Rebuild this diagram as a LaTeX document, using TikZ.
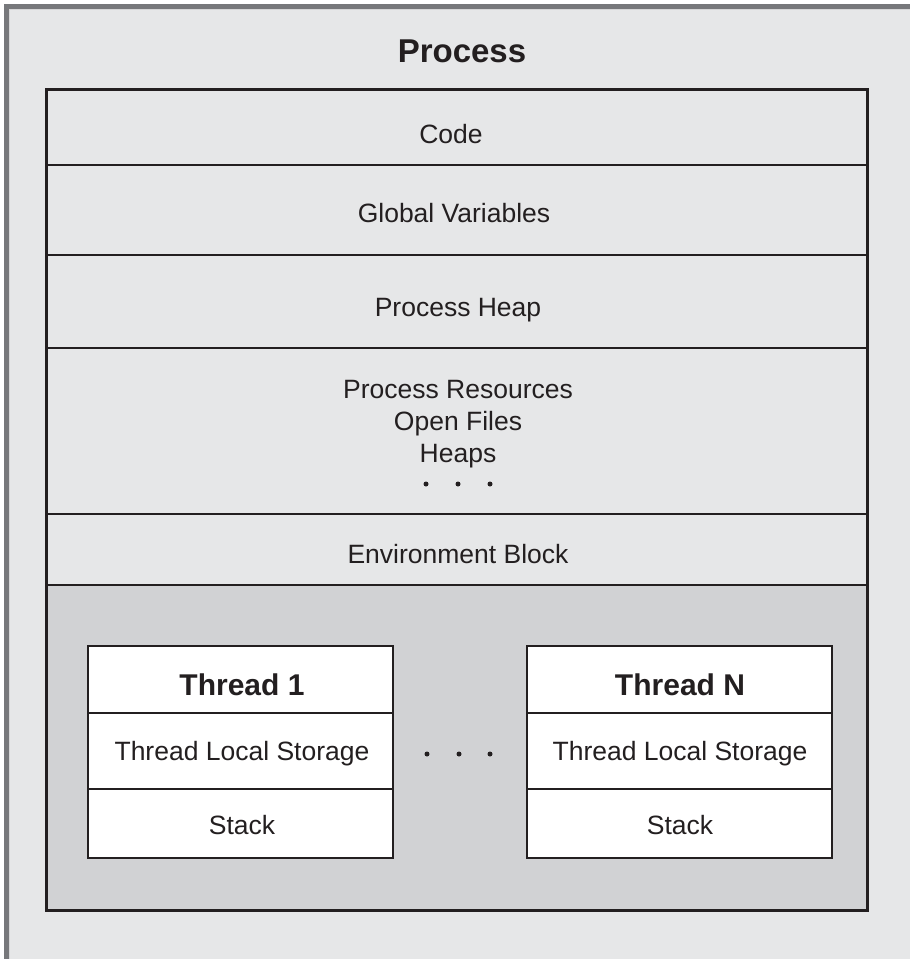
\documentclass[tikz,border=0pt]{standalone}
\usepackage{fontspec}
\setmainfont{Liberation Sans}
\definecolor{bgc}{HTML}{E6E7E8}
\definecolor{frame}{HTML}{77787B}
\definecolor{ink}{HTML}{231F20}
\definecolor{tgray}{HTML}{D1D2D4}
\begin{document}
\begin{tikzpicture}[x=1pt,y=-1pt,
  layer/.style={draw=ink, line width=1.5pt, rectangle, minimum width=820pt, inner sep=0pt},
  tbox/.style={draw=ink, line width=1.5pt, fill=white, rectangle, minimum width=305pt, inner sep=0pt},
  txt/.style={font=\fontsize{26.5}{32}\selectfont, text=ink, align=center, inner sep=0pt},
  bold/.style={font=\fontsize{30}{36}\selectfont\bfseries, text=ink, inner sep=0pt},
  dot/.style={circle, fill=ink, minimum size=5pt, inner sep=0pt}]
\useasboundingbox (0,0) rectangle (910,959);
\fill[white] (0,0) rectangle (910,959);
\fill[bgc] (4,4) rectangle (910,959);
\draw[frame, line width=5pt] (6.5,959) -- (6.5,6.5) -- (910,6.5);
\draw[white!70!frame, line width=1pt] (9.5,959) -- (9.5,9.5) -- (910,9.5);

\node[font=\fontsize{33}{40}\selectfont\bfseries, text=ink, inner sep=0pt] (title) at (462,51) {Process};

% layers
\node[layer, minimum height=75pt] (code) at (457,127.5) {};
\node[layer, minimum height=90pt] (glob) at (457,210) {};
\node[layer, minimum height=93pt] (heap) at (457,301.5) {};
\node[layer, minimum height=166pt] (res) at (457,431) {};
\node[layer, minimum height=71pt] (env) at (457,549.5) {};
\node[layer, fill=tgray, minimum height=325pt] (thr) at (457,747.5) {};
\draw[ink, line width=2.5pt] (code.north west) rectangle (thr.south east);

\node[txt] (tcode) at (451,134) {Code};
\node[txt] (tglob) at (454,213) {Global Variables};
\node[txt] (theap) at (458,310) {Process Heap};
\node[txt] (tres) at (458,424) {Process Resources\\Open Files\\Heaps};
\node[dot] (r1) at (426,484) {};
\node[dot] (r2) at (458,484) {};
\node[dot] (r3) at (490,484) {};
\node[txt] (tenv) at (458,554) {Environment Block};

% thread 1
\node[tbox, minimum height=67pt] (a1) at (240.5,679.5) {};
\node[tbox, minimum height=76pt] (a2) at (240.5,751) {};
\node[tbox, minimum height=69pt] (a3) at (240.5,823.5) {};
\node[bold] (a1t) at (242,685) {Thread 1};
\node[txt] (a2t) at (242,754) {Thread Local Storage};
\node[txt] (a3t) at (242,825) {Stack};

% thread N
\node[tbox, minimum height=67pt] (b1) at (679.5,679.5) {};
\node[tbox, minimum height=76pt] (b2) at (679.5,751) {};
\node[tbox, minimum height=69pt] (b3) at (679.5,823.5) {};
\node[bold] (b1t) at (680,685) {Thread N};
\node[txt] (b2t) at (680,754) {Thread Local Storage};
\node[txt] (b3t) at (680,825) {Stack};

\node[dot] (m1) at (427,754) {};
\node[dot] (m2) at (459,754) {};
\node[dot] (m3) at (490,754) {};
\end{tikzpicture}
\end{document}
